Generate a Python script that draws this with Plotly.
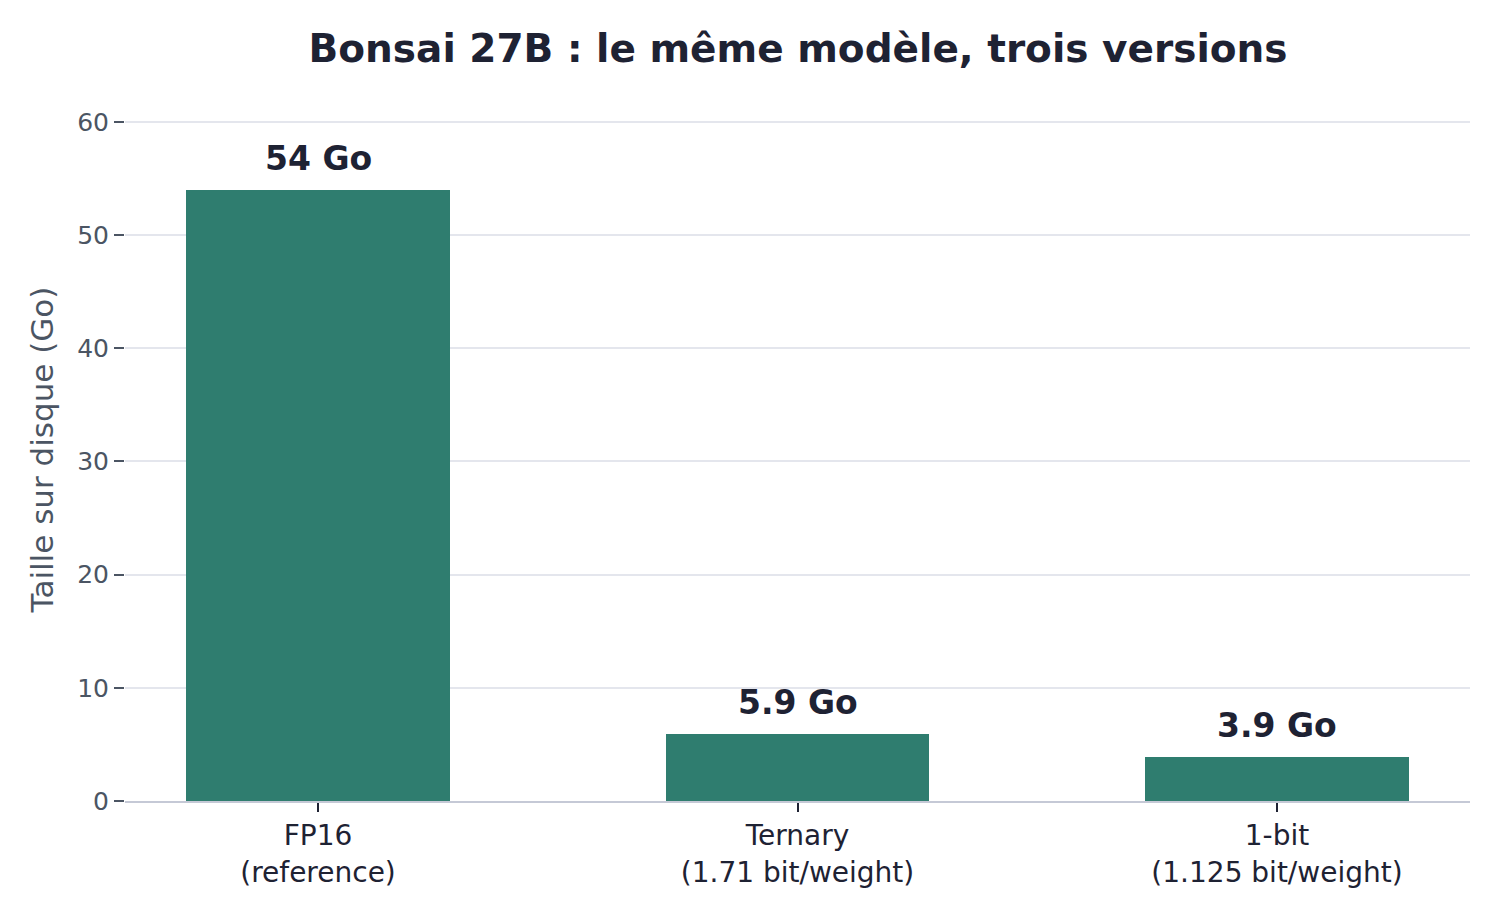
import plotly.graph_objects as go

# ── Data ──────────────────────────────────────────────────────────────────────
categories = ["FP16<br>(reference)", "Ternary<br>(1.71 bit/weight)", "1-bit<br>(1.125 bit/weight)"]
sizes_go   = [54, 5.9, 3.9]
labels     = ["54 Go", "5.9 Go", "3.9 Go"]
y_ticks    = [0, 10, 20, 30, 40, 50, 60]

FONT   = "DejaVu Sans"
GREEN  = "#2f7d6f"
DARK   = "#1e2233"
GREY   = "#4b5563"

fig = go.Figure(go.Bar(
    x=categories, y=sizes_go,
    marker_color=GREEN, marker_line_width=0,
    width=0.55, hoverinfo="skip",
))

for cat, val, lab in zip(categories, sizes_go, labels):
    fig.add_annotation(
        x=cat, y=val, text=f"<b>{lab}</b>",
        showarrow=False, yanchor="bottom", yshift=10,
        font=dict(family=FONT, size=33, color=DARK),
    )

# page body has an 8px margin, so the margins below compensate for it
fig.update_layout(
    width=1500, height=920,
    paper_bgcolor="white", plot_bgcolor="white",
    margin=dict(l=117, r=38, t=90, b=127),
    title=dict(text="<b>Bonsai 27B : le même modèle, trois versions</b>",
               x=0.5267, xanchor="center", y=0.9565, yanchor="middle",
               font=dict(family=FONT, size=39, color=DARK)),
    font=dict(family=FONT),
    showlegend=False,
    bargap=0,
)
fig.update_xaxes(
    range=[-0.4025, 2.4025],
    showline=True, linecolor="#c5c9d6", linewidth=1.5,
    ticks="outside", ticklen=9, tickwidth=1.5, tickcolor=DARK,
    tickfont=dict(family=FONT, size=28, color=DARK),
    showgrid=False,
)
fig.update_yaxes(
    range=[0, 62.1], tickvals=y_ticks,
    showgrid=True, gridcolor="#e4e6ed", gridwidth=2,
    zeroline=False, showline=False,
    ticks="outside", ticklen=10, tickwidth=1.5, tickcolor=GREY,
    tickfont=dict(family=FONT, size=25, color=GREY),
    title=dict(text="Taille sur disque (Go)", standoff=14,
               font=dict(family=FONT, size=31, color=GREY)),
)

fig.write_html("out.html")
